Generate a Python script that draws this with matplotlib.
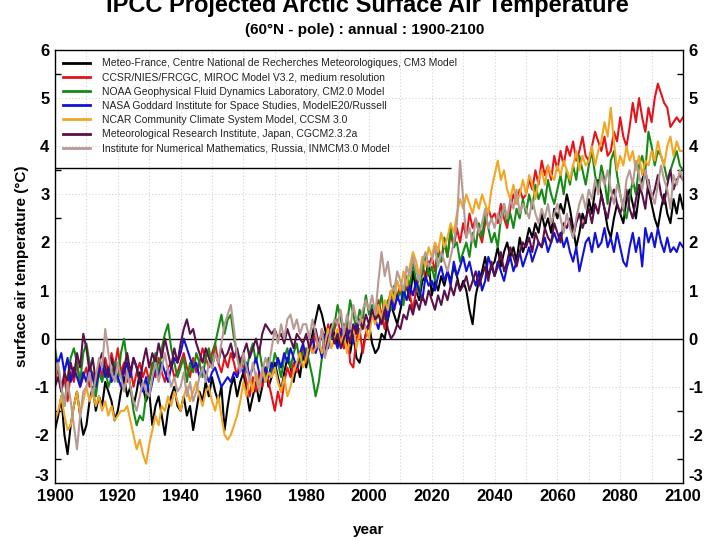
import numpy as np
import matplotlib
matplotlib.use('Agg')
import matplotlib.pyplot as plt
from matplotlib.ticker import FixedLocator

plt.rcParams['font.family'] = ['Liberation Sans', 'DejaVu Sans']
plt.rcParams['axes.unicode_minus'] = False

years = np.arange(1900, 2101)

model_names = [
    'Meteo-France, Centre National de Recherches Meteorologiques, CM3 Model',
    'CCSR/NIES/FRCGC, MIROC Model V3.2, medium resolution',
    'NOAA Geophysical Fluid Dynamics Laboratory, CM2.0 Model',
    'NASA Goddard Institute for Space Studies, ModelE20/Russell',
    'NCAR Community Climate System Model, CCSM 3.0',
    'Meteorological Research Institute, Japan, CGCM2.3.2a',
    'Institute for Numerical Mathematics, Russia, INMCM3.0 Model',
]

y_ticks = [-3, -2, -1, 0, 1, 2, 3, 4, 5, 6]
x_ticks = [1900, 1920, 1940, 1960, 1980, 2000, 2020, 2040, 2060, 2080, 2100]

# annual anomalies (deg C), 1900..2100
cnrm_cm3 = [
    -1.9, -1.6, -1.2, -2.0, -2.4, -1.8, -1.4, -1.1, -1.6, -2.0,
    -1.8, -1.3, -1.0, -1.5, -1.2, -1.4, -0.9, -1.1, -1.3, -1.7,
    -1.5, -1.1, -0.8, -1.2, -1.0, -1.4, -1.1, -0.7, -1.0, -1.3,
    -1.1, -1.8, -1.4, -1.2, -1.6, -2.0, -1.5, -1.2, -1.0, -1.4,
    -1.5, -1.2, -1.6, -1.4, -1.9, -1.5, -1.1, -1.3, -0.9, -1.2,
    -0.8, -1.1, -1.3, -1.0, -1.9, -1.4, -1.0, -0.8, -1.2, -0.9,
    -0.7, -1.1, -1.5, -1.2, -0.9, -1.3, -1.0, -0.6, -1.0, -0.8,
    -0.5, -0.8, -1.1, -0.7, -0.4, -0.6, -0.9, -0.5, -0.8, -0.3,
    -0.6, -0.2, 0.1, 0.4, 0.7, 0.5, 0.2, -0.1, 0.3, 0.1,
    -0.1, 0.2, -0.2, 0.0, -0.3, 0.1, -0.4, -0.5, -0.2, 0.1,
    0.3, -0.1, -0.3, -0.2, 0.1, 0.0, 0.4, 0.7, 0.5, 0.3,
    0.6, 0.9, 1.1, 0.8, 1.4, 1.0, 0.8, 1.2, 1.3, 1.6,
    0.9, 1.2, 1.0, 1.3, 1.1, 1.4, 1.2, 1.5, 1.3, 1.0,
    1.2, 1.0, 0.6, 0.3, 0.9, 1.2, 1.4, 1.7, 1.3, 1.5,
    1.6, 1.9, 1.5, 1.8, 2.0, 1.7, 1.9, 1.6, 2.1, 1.8,
    2.0, 2.3, 2.1, 2.4, 2.2, 2.6, 2.3, 2.5, 2.2, 2.7,
    2.5, 2.8, 2.6, 3.0, 2.7, 2.3, 1.9, 2.2, 2.6, 2.4,
    2.9, 2.6, 3.1, 3.3, 3.0, 2.7, 2.3, 2.1, 2.5, 2.8,
    2.6, 2.4, 2.9, 3.1, 2.8, 2.5, 3.0, 3.3, 3.5, 3.1,
    2.8, 2.5, 2.3, 2.7, 3.0, 2.6, 2.4, 2.9, 2.6, 3.0,
    2.7,
]

miroc_medres = [
    -0.9, -0.6, -1.1, -0.8, -1.3, -0.7, -0.9, -0.5, -1.0, -0.8,
    -0.6, -1.0, -0.7, -0.9, -0.5, -0.8, -0.4, -0.7, -0.3, -0.6,
    -0.2, -0.7, -0.5, -0.9, -0.6, -1.0, -0.7, -0.5, -0.8, -0.6,
    -0.9, -0.5, -0.8, -0.4, -0.7, -0.9, -0.6, -0.5, -0.8, -0.7,
    -0.5, -0.3, -0.6, -0.8, -0.4, -0.7, -0.5, -0.2, -0.4, -0.6,
    -0.3, -0.1, -0.5, -0.7, -0.4, -0.6, -0.3, -0.5, -0.8, -0.4,
    -0.6, -0.9, -1.2, -0.8, -1.1, -0.7, -1.0, -0.6, -0.9, -1.2,
    -1.5, -1.1, -1.4, -0.9, -0.6, -0.8, -0.5, -0.7, -0.4, -0.2,
    -0.5, -0.1, -0.3, 0.1, -0.2, 0.2, -0.1, 0.3, 0.0, 0.2,
    0.4, 0.1, -0.2, 0.3, -0.5, -0.6, 0.0, 0.2, -0.3, 0.1,
    0.3, 0.6, 0.4, 0.8, 0.5, 0.2, 0.7, 1.0, 0.6, 0.9,
    1.1, 0.8, 1.2, 0.9, 0.6, 1.0, 1.3, 1.6, 1.2, 1.5,
    1.7, 1.4, 1.9, 1.6, 2.0, 1.7, 2.2, 1.9, 2.3, 2.0,
    2.4, 2.1, 2.6, 2.3, 2.5, 2.2, 2.0, 2.4, 2.7, 2.5,
    2.6, 2.4, 2.8, 2.5, 2.3, 2.7, 3.0, 2.8, 3.1, 2.9,
    3.0, 3.3, 3.1, 3.5, 3.2, 3.7, 3.4, 3.6, 3.3, 3.8,
    3.5, 3.9, 3.6, 4.0, 3.8, 4.1, 3.7, 3.9, 4.2, 3.8,
    3.7, 4.0, 4.3, 4.1, 3.9, 4.2, 3.8, 3.9, 4.3, 4.1,
    4.6, 4.2, 4.0, 4.4, 4.9, 4.5, 5.0, 4.6, 4.3, 4.8,
    4.5, 5.0, 5.3, 5.1, 4.9, 4.8, 4.4, 4.5, 4.6, 4.5,
    4.6,
]

gfdl_cm20 = [
    -0.2, -0.6, -1.0, -1.4, -0.8, -0.4, -0.2, -0.5, -0.9, -0.3,
    -0.1, -0.5, -0.8, -1.2, -0.7, -0.9, -0.6, -1.0, -0.8, -0.5,
    -0.9, -0.3, 0.0, -0.5, -1.0, -1.5, -1.8, -1.6, -1.7, -1.2,
    -0.9, -0.6, -0.3, -0.8, -0.2, 0.1, 0.3, -0.2, -0.5, -0.8,
    -0.6, -0.4, -0.9, -0.5, -0.7, -0.3, -0.5, -0.8, -0.4, -0.2,
    -0.6, -0.1, 0.2, 0.5, 0.1, 0.4, 0.5, 0.0, -0.3, -0.6,
    -0.4, -0.7, -0.3, -0.1, -0.5, -0.2, -0.6, -0.9, -0.4, -0.7,
    -0.3, -0.5, -0.8, -0.4, -0.2, -0.6, -0.3, -0.1, -0.5, -0.3,
    -0.2, -0.5, -0.8, -1.2, -0.9, -0.4, -0.1, 0.2, 0.0, 0.3,
    0.7, 0.4, 0.1, 0.3, 0.8, 0.5, 0.2, 0.6, 0.4, 0.9,
    0.5, 0.7, 0.3, 0.6, 0.9, 0.4, 0.8, 0.6, 1.1, 0.8,
    1.0, 0.7, 1.3, 1.1, 1.6, 1.2, 0.9, 1.4, 1.7, 1.3,
    1.5, 1.2, 1.8, 1.6, 2.1, 1.7, 2.3, 1.9, 2.0, 1.6,
    1.8, 2.0, 1.7, 2.2, 1.9, 2.4, 2.1, 2.6, 2.3, 2.0,
    2.2, 1.9, 2.5, 2.8, 2.4, 2.6, 2.3, 2.7, 2.5, 2.9,
    2.6, 3.0, 2.7, 3.2, 2.9, 3.1, 2.8, 3.3, 3.0, 2.8,
    3.1, 3.4, 3.0, 3.5, 3.2, 3.6, 3.3, 3.8, 3.5, 3.2,
    3.6, 3.9, 3.4, 3.1, 3.6, 3.3, 2.8, 3.7, 3.9, 3.4,
    3.0, 2.7, 2.5, 2.9, 3.3, 3.0, 3.6, 3.8, 3.5, 4.3,
    4.0, 3.6, 3.9, 3.8, 3.6, 3.3, 3.5, 3.7, 3.9, 3.6,
    3.5,
]

giss_er = [
    -0.4, -0.5, -0.3, -0.7, -0.4, -0.9, -0.6, -0.8, -1.0, -0.7,
    -0.9, -0.6, -0.8, -1.0, -0.7, -0.5, -0.8, -0.6, -0.9, -0.7,
    -0.8, -1.0, -0.7, -0.5, -0.8, -0.4, -0.6, -0.9, -1.1, -0.8,
    -1.2, -0.9, -0.6, -0.8, -0.5, -0.7, -0.9, -0.6, -0.4, -0.5,
    -0.3, 0.0, -0.2, -0.4, -0.6, -0.5, -0.8, -0.6, -0.7, -0.9,
    -0.7, -0.6, -0.8, -1.0, -0.9, -0.8, -0.9, -0.7, -0.8, -0.6,
    -0.7, -0.5, -0.8, -0.6, -0.4, -0.7, -0.9, -0.6, -0.8, -0.5,
    -0.7, -0.4, -0.6, -0.3, -0.5, -0.2, -0.4, -0.6, -0.3, -0.1,
    -0.4, -0.2, 0.0, -0.3, -0.1, -0.4, 0.1, -0.2, 0.2, 0.0,
    -0.2, 0.1, 0.3, 0.0, 0.2, -0.1, 0.3, 0.1, 0.4, 0.2,
    0.3, 0.6, 0.4, 0.2, 0.5, 0.7, 0.4, 0.8, 0.6, 0.9,
    0.7, 1.0, 0.8, 1.1, 0.9, 1.2, 1.0, 0.8, 1.3, 1.1,
    1.2, 1.0, 1.3, 1.5, 1.2, 1.4, 1.1, 1.6, 1.3, 1.5,
    1.7, 1.4, 1.6, 1.3, 1.1, 1.4, 1.0, 1.2, 1.7, 1.5,
    1.3, 1.6, 1.4, 1.2, 1.5, 1.7, 1.4, 1.6, 1.8, 1.5,
    1.7, 1.9, 1.6, 1.8, 2.0, 1.9, 2.1, 1.8, 2.0, 2.2,
    2.0, 2.2, 1.9, 2.1, 1.8, 1.6, 1.9, 1.4, 1.7, 2.0,
    2.1, 1.8, 2.2, 1.9, 2.0, 2.3, 1.9, 2.1, 1.8, 2.2,
    1.9, 1.6, 1.5, 1.9, 2.2, 1.8, 2.1, 1.5, 2.3, 2.0,
    2.2, 1.9, 2.3, 2.0, 1.8, 2.1, 1.8, 1.9, 1.8, 2.0,
    1.9,
]

ncar_ccsm3 = [
    -1.7, -1.5, -1.2, -1.6, -1.9, -1.8, -1.4, -1.1, -1.6, -1.3,
    -1.0, -1.3, -1.1, -1.4, -1.2, -1.5, -1.3, -1.6, -1.4, -1.7,
    -1.6, -1.5, -1.5, -1.4, -1.7, -2.0, -2.3, -2.1, -2.4, -2.6,
    -2.2, -1.9, -1.6, -1.8, -1.4, -1.5, -1.2, -1.4, -1.1, -1.3,
    -1.5, -1.2, -1.0, -1.3, -1.1, -0.9, -1.2, -1.4, -1.1, -1.0,
    -1.3, -1.5, -1.2, -1.6, -2.0, -2.1, -2.0, -1.8, -1.6, -1.3,
    -0.9, -1.2, -0.8, -1.1, -0.7, -1.0, -0.6, -0.9, -0.7, -0.8,
    -0.6, -0.9, -1.1, -0.8, -1.2, -1.0, -0.7, -0.5, -0.3, -0.6,
    -0.4, -0.1, -0.3, -0.2, 0.0, -0.3, -0.1, 0.2, -0.2, 0.0,
    0.2, -0.1, 0.1, -0.3, 0.0, 0.3, -0.2, 0.1, 0.4, 0.2,
    0.0, 0.5, 0.3, 0.7, 0.4, 0.8, 0.6, 1.0, 0.8, 1.2,
    1.0, 1.4, 1.1, 1.5, 1.8, 1.6, 1.3, 1.7, 1.5, 1.9,
    1.7, 2.0, 1.8, 2.2, 1.9, 2.1, 2.4, 2.2, 2.6, 2.9,
    2.7, 3.0, 2.8, 2.6, 2.9, 2.7, 3.0, 2.8, 2.6, 3.1,
    3.4, 3.7, 3.3, 3.5, 3.1, 2.9, 3.2, 2.8, 3.0, 3.3,
    3.0, 3.4, 3.2, 2.9, 3.3, 3.5, 3.2, 3.6, 3.4, 3.3,
    3.6, 3.4, 3.7, 3.5, 3.3, 3.6, 3.9, 3.5, 3.8, 3.6,
    3.7, 4.0, 3.6, 3.9, 4.1, 4.5, 4.2, 4.8, 4.1, 3.5,
    3.8, 3.6, 4.0, 3.7, 3.9, 3.5, 3.8, 3.4, 3.7, 3.6,
    3.9, 3.7, 4.1, 3.8, 3.6, 4.0, 4.2, 3.8, 4.1, 3.9,
    3.9,
]

mri_cgcm = [
    -1.0, -0.8, -1.1, -0.7, -0.9, -0.5, -0.8, -0.3, -0.6, 0.1,
    -0.2, -0.7, -0.4, -0.9, -0.5, -0.3, -0.6, -0.8, -0.4, -0.7,
    -0.5, -0.8, -0.6, -0.3, -0.7, -0.4, -0.6, -0.9, -0.5, -0.2,
    -0.6, -0.3, -0.5, -0.1, -0.4, 0.0, -0.3, -0.6, -0.2, -0.5,
    -0.1, 0.2, 0.4, 0.1, 0.2, -0.1, -0.3, -0.5, -0.2, -0.4,
    -0.6, -0.3, -0.5, -0.2, -0.4, -0.3, -0.1, -0.4, -0.2, -0.5,
    -0.3, -0.1, -0.4, -0.2, 0.0, -0.3, 0.1, 0.3, 0.2, 0.1,
    0.2, 0.0, 0.1, -0.1, 0.2, 0.0, -0.2, 0.1, 0.0, -0.1,
    0.1, -0.2, 0.0, 0.2, -0.1, 0.1, -0.3, 0.0, 0.2, -0.1,
    0.1, -0.2, 0.0, 0.2, -0.1, 0.3, 0.1, 0.4, 0.2, 0.5,
    0.3, 0.6, 0.4, 0.5, 0.3, 0.6, 0.2, 0.0, 0.1, 0.3,
    0.2, 0.5, 0.4, 0.7, 0.5, 0.8, 0.6, 0.9, 0.7, 1.0,
    0.8, 0.6, 0.9, 0.7, 1.0, 0.8, 1.1, 0.9, 1.2, 1.0,
    1.1, 1.3, 1.0, 1.2, 1.4, 1.1, 1.3, 1.5, 1.2, 1.6,
    1.3, 1.5, 1.8, 1.4, 1.6, 1.9, 1.7, 1.5, 1.8, 2.0,
    1.9, 2.1, 1.8, 2.2, 2.0, 1.9, 2.3, 2.1, 2.0, 2.4,
    2.2, 2.0, 2.4, 2.3, 2.5, 2.1, 2.4, 2.6, 2.3, 2.5,
    2.7, 2.4, 2.8, 2.6, 3.0, 2.7, 2.5, 2.9, 3.1, 2.8,
    2.6, 2.8, 3.1, 2.7, 2.5, 2.9, 3.2, 3.0, 2.7, 3.3,
    2.9, 3.1, 3.4, 3.0, 2.8, 3.2, 3.5, 3.1, 3.3, 3.4,
    3.3,
]

inm_cm3 = [
    -0.8, -0.5, -1.0, -1.4, -0.9, -1.3, -1.8, -2.3, -1.6, -1.1,
    -1.0, -0.7, -1.2, -0.8, -0.4, -0.6, 0.2, -0.3, -0.7, -0.9,
    -0.5, -0.8, -1.1, -0.7, -1.0, -1.3, -1.5, -1.2, -0.9, -1.1,
    -1.2, -0.8, -0.5, -0.9, -0.6, -0.3, -0.7, -1.0, -0.8, -1.1,
    -1.0, -0.7, -1.2, -0.9, -1.3, -1.1, -0.8, -0.6, -0.9, -0.5,
    -0.6, -0.3, -0.5, -0.1, 0.3, 0.5, 0.7, 0.2, -0.4, -0.7,
    -0.3, -0.6, -0.9, -0.5, -0.8, -1.1, -0.7, -0.4, -0.6, -0.2,
    0.2, -0.1, 0.3, 0.0, 0.4, 0.5, 0.2, 0.4, 0.1, 0.3,
    0.3, 0.0, 0.4, 0.1, -0.2, 0.2, -0.4, -0.1, 0.2, 0.4,
    0.3, 0.6, 0.1, 0.5, 0.2, 0.7, 0.4, 0.3, 0.6, 0.8,
    0.6, 0.9, 0.5, 1.2, 1.8, 1.3, 1.6, 1.1, 1.0, 1.4,
    1.2, 1.0, 1.5, 1.3, 1.7, 1.4, 1.2, 1.6, 1.8, 1.5,
    1.6, 1.9, 1.5, 1.8, 1.6, 1.4, 1.7, 2.0, 2.4, 3.7,
    2.9, 2.1, 2.3, 2.0, 2.5, 2.2, 2.4, 2.7, 2.3, 2.5,
    2.3, 2.6, 2.4, 2.8, 2.5, 2.9, 2.7, 3.1, 2.6, 2.8,
    2.7, 2.5, 2.9, 2.6, 2.4, 2.7, 2.5, 2.8, 2.4, 2.6,
    2.8, 2.5, 2.2, 2.6, 2.3, 2.1, 2.5, 2.8, 3.0, 2.7,
    3.1, 2.9, 3.3, 3.0, 3.4, 3.2, 3.5, 3.1, 2.8, 3.2,
    3.0, 2.7, 3.3, 3.5, 3.2, 3.7, 3.4, 3.1, 3.5, 3.2,
    3.0, 2.8, 3.2, 3.6, 3.3, 3.1, 2.7, 3.4, 3.2, 3.5,
    3.3,
]

series = [cnrm_cm3, miroc_medres, gfdl_cm20, giss_er, ncar_ccsm3, mri_cgcm, inm_cm3]
colors = ['#000000', '#e3141c', '#168a16', '#1212d6', '#f2a626', '#5a1048', '#b89a94']

fig = plt.figure(figsize=(7.2, 5.4), dpi=100)
ax = fig.add_axes([0.0764, 0.1056, 0.8722, 0.8018])

for vals, col, name in zip(series, colors, model_names):
    ax.plot(years, vals, color=col, lw=1.5, label=name)

ax.axhline(0, color='black', lw=1.0, zorder=1)

ax.set_xlim(1900, 2100)
ax.set_ylim(-3, 6)
ax.set_xticks(x_ticks)
ax.set_yticks(y_ticks)
# the bottom label (-3) sits a little higher than its tick, drawn separately below
ax.set_yticklabels(['' if v == y_ticks[0] else str(v) for v in y_ticks])
ax.yaxis.set_minor_locator(FixedLocator([-2.5, -1.5, 2.5, 3.5, 5.5]))
ax.tick_params(axis='both', which='major', length=0, labelsize=12, pad=4)
ax.tick_params(axis='y', which='both', right=True, labelright=True)
ax.tick_params(axis='y', which='minor', direction='in', length=4.5, width=1.0)
for lab in ax.get_xticklabels() + ax.get_yticklabels():
    lab.set_fontweight('bold')

for side_x, ha, dx in [(0, 'right', -4), (1, 'left', 4)]:
    ax.annotate(str(y_ticks[0]), xy=(side_x, y_ticks[0]),
                xycoords=('axes fraction', 'data'),
                xytext=(dx, 5), textcoords='offset points',
                ha=ha, va='center', fontsize=12, fontweight='bold')

for yv in range(-2, 6):
    if yv != 0:
        ax.axhline(yv, color='#d4d4d4', lw=0.8, ls=(0, (1, 2)), zorder=0)
for xv in range(1910, 2100, 10):
    ax.axvline(xv, color='#d4d4d4', lw=0.8, ls=(0, (1, 2)), zorder=0)

for sp in ax.spines.values():
    sp.set_linewidth(1.0)

leg = ax.legend(loc='upper left', bbox_to_anchor=(0.0, 1.0), frameon=False,
                fontsize=7.5, handlelength=2.6, handletextpad=1.1,
                labelspacing=0.40, borderaxespad=0.4)
for line in leg.get_lines():
    line.set_linewidth(2.0)
for t in leg.get_texts():
    t.set_color('#222222')
ax.hlines(3.55, 1900, 2026, color='black', lw=1.0)

ax.set_xlabel('year', fontsize=11, fontweight='bold', labelpad=14)
ax.set_ylabel('surface air temperature (\u00b0C)', fontsize=11, fontweight='bold', labelpad=4)

fig.text(0.51, 0.978, 'IPCC Projected Arctic Surface Air Temperature',
         ha='center', va='baseline', fontsize=17, fontweight='bold')
fig.text(0.507, 0.937, '(60\u00b0N - pole) : annual : 1900-2100',
         ha='center', va='baseline', fontsize=11, fontweight='bold')

fig.savefig('out.png', dpi=100)
